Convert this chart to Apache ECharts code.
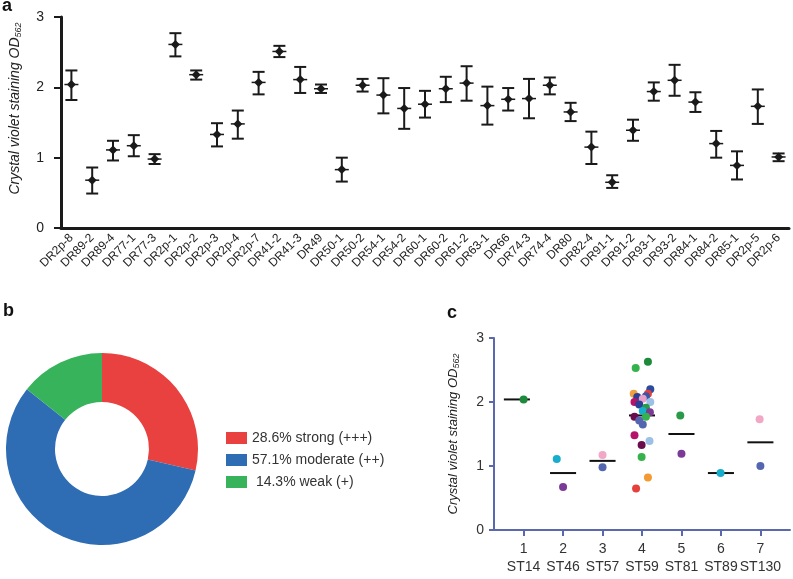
<!DOCTYPE html>
<html>
<head>
<meta charset="utf-8">
<script src="https://cdn.jsdelivr.net/npm/echarts@6/dist/echarts.min.js"></script>
<style>
  html, body { margin: 0; padding: 0; background: #fff; }
  #chart { width: 793px; height: 579px; }
</style>
</head>
<body>
<div id="chart"></div>
<script>
  // panel a: biofilm per strain (mean with error bar)
  const strains = ['DR2p-8', 'DR89-2', 'DR89-4', 'DR77-1', 'DR77-3', 'DR2p-1', 'DR2p-2', 'DR2p-3', 'DR2p-4', 'DR2p-7',
    'DR41-2', 'DR41-3', 'DR49', 'DR50-1', 'DR50-2', 'DR54-1', 'DR54-2', 'DR60-1', 'DR60-2', 'DR61-2',
    'DR63-1', 'DR66', 'DR74-3', 'DR74-4', 'DR80', 'DR82-4', 'DR91-1', 'DR91-2', 'DR93-1', 'DR93-2',
    'DR84-1', 'DR84-2', 'DR85-1', 'DR2p-5', 'DR2p-6'];
  const meanOD = [2.04, 0.68, 1.11, 1.17, 0.98, 2.61, 2.18, 1.33, 1.48, 2.07,
    2.51, 2.11, 1.98, 0.83, 2.03, 1.89, 1.70, 1.76, 1.98, 2.06,
    1.74, 1.83, 1.84, 2.03, 1.65, 1.15, 0.65, 1.39, 1.94, 2.10,
    1.79, 1.20, 0.89, 1.73, 1.01];
  const upperOD = [2.24, 0.86, 1.24, 1.32, 1.05, 2.77, 2.24, 1.49, 1.67, 2.22,
    2.59, 2.29, 2.04, 1.00, 2.12, 2.13, 1.99, 1.95, 2.15, 2.30,
    2.01, 1.99, 2.12, 2.14, 1.78, 1.37, 0.75, 1.54, 2.07, 2.32,
    1.93, 1.38, 1.09, 1.97, 1.06];
  const lowerOD = [1.82, 0.49, 0.96, 1.02, 0.91, 2.44, 2.11, 1.16, 1.27, 1.90,
    2.43, 1.92, 1.92, 0.66, 1.94, 1.63, 1.41, 1.57, 1.79, 1.81,
    1.47, 1.67, 1.56, 1.90, 1.52, 0.91, 0.57, 1.24, 1.81, 1.88,
    1.65, 1.00, 0.69, 1.48, 0.95];

  // panel b: biofilm classes
  const classNames = ['28.6% strong (+++)', '57.1% moderate (++)', ' 14.3% weak (+)'];
  const classShare = [28.6, 57.1, 14.3];
  const classColors = ['#e8413f', '#2e6cb4', '#36b35b'];

  // panel c: per sequence type
  const stTicks = [1, 2, 3, 4, 5, 6, 7];
  const stLabels = ['ST14', 'ST46', 'ST57', 'ST59', 'ST81', 'ST89', 'ST130'];
  const stMedianX = [0.83, 2, 3, 4, 5, 6, 7];
  const stMedianOD = [2.04, 0.89, 1.08, 1.79, 1.50, 0.89, 1.37];
  const dotX = [1.0, 1.84, 2.0, 3.0, 3.0,
    3.84, 4.15, 4.21, 3.79, 4.15, 3.88, 4.10, 4.02, 4.21, 3.81, 3.93, 4.10,
    4.02, 4.20, 3.81, 4.10, 3.93, 4.02, 3.81, 4.19, 3.99, 3.99, 4.15, 3.85,
    4.97, 5.0, 5.99, 6.98, 7.0];
  const dotOD = [2.04, 1.11, 0.67, 1.17, 0.98,
    2.53, 2.63, 2.20, 2.13, 2.13, 2.08, 2.09, 2.05, 2.00, 2.00, 1.96, 1.91,
    1.86, 1.84, 1.77, 1.77, 1.71, 1.65, 1.48, 1.39, 1.33, 1.14, 0.82, 0.65,
    1.79, 1.19, 0.89, 1.73, 1.00];
  const dotColors = ['#1e8a3c', '#17aecd', '#7b3a96', '#f2a7c6', '#5566b0',
    '#35b24a', '#1e8a3c', '#2b4aa0', '#f0a040', '#e6403a', '#2a3f96', '#3a56a8', '#e8a0c8', '#9dc0e6', '#b5126a', '#2a3f96', '#2a9a48',
    '#17aecd', '#7b3a96', '#6b0d4d', '#35b24a', '#5566b0', '#5566b0', '#b5126a', '#9dc0e6', '#6b0d4d', '#35b24a', '#f39a32', '#e6403a',
    '#2a9a48', '#7b3a96', '#17aecd', '#f2a7c6', '#5566b0'];

  const font = '"Liberation Sans", Arial, sans-serif';
  const axisNameRich = {
    sub: { fontSize: 9, fontStyle: 'italic', fontFamily: font, color: '#222', padding: [7, 0, 0, 0] }
  };
  const cAxis = '#5a69ae';

  const chart = echarts.init(document.getElementById('chart'));

  const option = {
    animation: false,
    textStyle: { fontFamily: font },
    graphic: [
      { type: 'text', left: 2, top: -3, style: { text: 'a', font: 'bold 18px ' + font, fill: '#111' } },
      { type: 'text', left: 3, top: 302, style: { text: 'b', font: 'bold 18px ' + font, fill: '#111' } },
      { type: 'text', left: 447, top: 304, style: { text: 'c', font: 'bold 18px ' + font, fill: '#111' } }
    ],
    legend: {
      data: classNames,
      orient: 'vertical',
      left: 221,
      top: 426,
      itemWidth: 21,
      itemHeight: 12,
      itemGap: 8,
      icon: 'rect',
      textStyle: { fontSize: 14, color: '#333', fontFamily: font }
    },
    grid: [
      { left: 60, right: 4, top: 17, bottom: 351 },
      { left: 494, right: 3, top: 338, bottom: 49 }
    ],
    xAxis: [
      {
        gridIndex: 0,
        type: 'category',
        data: strains,
        axisLine: { lineStyle: { color: '#1a1a1a', width: 3 } },
        axisTick: { alignWithLabel: true, length: 6, lineStyle: { color: '#1a1a1a', width: 2 } },
        axisLabel: { rotate: 45, fontSize: 12, color: '#222', margin: 8, interval: 0 }
      },
      {
        gridIndex: 1,
        type: 'value',
        min: 0.25,
        max: 7.75,
        splitLine: { show: false },
        axisLine: { lineStyle: { color: cAxis, width: 2 } },
        axisTick: { customValues: stTicks, length: 6, lineStyle: { color: cAxis, width: 2 } },
        axisLabel: {
          customValues: stTicks,
          margin: 10,
          formatter: v => '{n|' + v + '}\n{s|' + stLabels[stTicks.indexOf(v)] + '}',
          rich: {
            n: { fontSize: 14, color: '#333', lineHeight: 18, fontFamily: font },
            s: { fontSize: 14, color: '#333', lineHeight: 18, fontFamily: font }
          }
        }
      }
    ],
    yAxis: [
      {
        gridIndex: 0,
        type: 'value',
        min: 0,
        max: 3,
        interval: 1,
        splitLine: { show: false },
        axisLine: { show: true, lineStyle: { color: '#1a1a1a', width: 3 } },
        axisTick: { show: true, length: 7, lineStyle: { color: '#1a1a1a', width: 2 } },
        axisLabel: { fontSize: 14, color: '#222', margin: 17 },
        name: 'Crystal violet staining OD{sub|562}',
        nameLocation: 'middle',
        nameGap: 38,
        nameTextStyle: { fontSize: 14, fontStyle: 'italic', color: '#222', padding: [0, 0, 0, 28], rich: axisNameRich }
      },
      {
        gridIndex: 1,
        type: 'value',
        min: 0,
        max: 3,
        interval: 1,
        splitLine: { show: false },
        axisLine: { show: true, lineStyle: { color: cAxis, width: 2 } },
        axisTick: { show: true, length: 5, lineStyle: { color: cAxis, width: 2 } },
        axisLabel: { fontSize: 14, color: '#333', margin: 10 },
        name: 'Crystal violet staining OD{sub|562}',
        nameLocation: 'middle',
        nameGap: 33,
        nameTextStyle: { fontSize: 13, fontStyle: 'italic', color: '#222', rich: axisNameRich }
      }
    ],
    series: [
      {
        type: 'custom',
        xAxisIndex: 0,
        yAxisIndex: 0,
        data: strains.map((s, i) => [i, meanOD[i], lowerOD[i], upperOD[i]]),
        renderItem: (params, api) => {
          const c = api.coord([api.value(0), api.value(1)]);
          const lo = api.coord([api.value(0), api.value(2)]);
          const hi = api.coord([api.value(0), api.value(3)]);
          const st = { stroke: '#1a1a1a', lineWidth: 2, fill: null };
          const x = c[0], y = c[1];
          return {
            type: 'group',
            children: [
              { type: 'line', shape: { x1: x, y1: hi[1], x2: x, y2: lo[1] }, style: st },
              { type: 'line', shape: { x1: x - 6, y1: hi[1], x2: x + 6, y2: hi[1] }, style: st },
              { type: 'line', shape: { x1: x - 6, y1: lo[1], x2: x + 6, y2: lo[1] }, style: st },
              { type: 'line', shape: { x1: x - 7, y1: y, x2: x + 7, y2: y }, style: { stroke: '#1a1a1a', lineWidth: 1.5 } },
              { type: 'polygon', shape: { points: [[x, y - 4.5], [x + 4.5, y], [x, y + 4.5], [x - 4.5, y]] }, style: { fill: '#1a1a1a' } }
            ]
          };
        }
      },
      {
        type: 'pie',
        center: [102, 449],
        radius: [47, 96],
        startAngle: 90,
        label: { show: false },
        labelLine: { show: false },
        emphasis: { disabled: true },
        data: classNames.map((n, i) => ({ name: n, value: classShare[i], itemStyle: { color: classColors[i] } }))
      },
      {
        type: 'custom',
        xAxisIndex: 1,
        yAxisIndex: 1,
        z: 2,
        data: stMedianX.map((x, i) => [x, stMedianOD[i]]),
        renderItem: (params, api) => {
          const a = api.coord([api.value(0) - 0.33, api.value(1)]);
          const b = api.coord([api.value(0) + 0.33, api.value(1)]);
          return { type: 'line', shape: { x1: a[0], y1: a[1], x2: b[0], y2: b[1] }, style: { stroke: '#111', lineWidth: 2 } };
        }
      },
      {
        type: 'scatter',
        xAxisIndex: 1,
        yAxisIndex: 1,
        z: 3,
        symbolSize: 8,
        data: dotX.map((x, i) => ({ value: [x, dotOD[i]], itemStyle: { color: dotColors[i], opacity: 1 } }))
      }
    ]
  };

  chart.setOption(option);
</script>
</body>
</html>
